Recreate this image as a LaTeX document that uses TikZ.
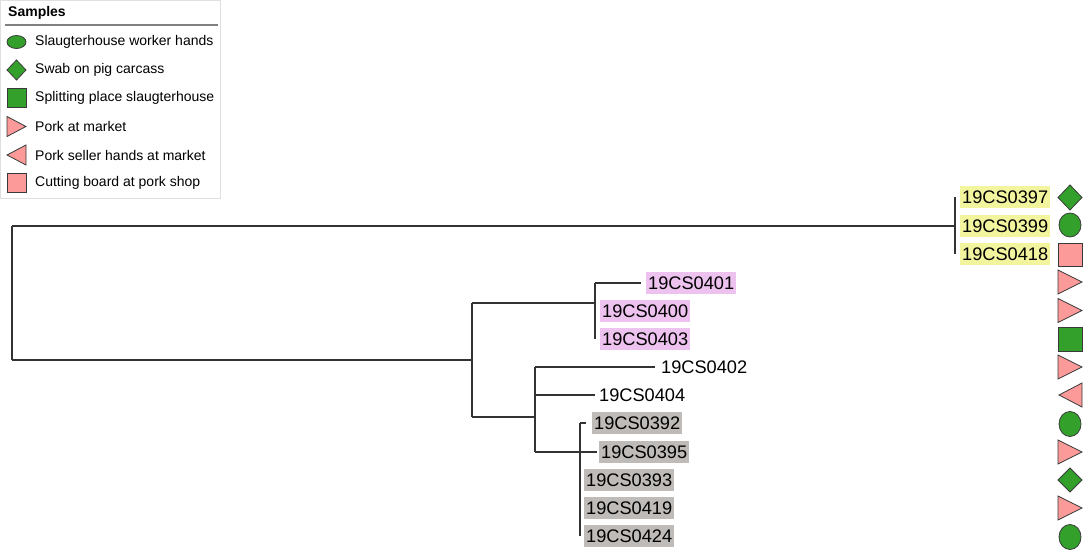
\documentclass[tikz,border=0pt]{standalone}
\usepackage{fontspec}
\setmainfont{Liberation Sans}
\definecolor{sgreen}{HTML}{33A02C}
\definecolor{spink}{HTML}{FB9A99}
\definecolor{sborder}{HTML}{3A3A3A}
\definecolor{hly}{HTML}{F3F59E}
\definecolor{hlp}{HTML}{EEC2EE}
\definecolor{hlg}{HTML}{BFBBB8}
\definecolor{branch}{HTML}{333333}
\tikzset{
  br/.style={draw=branch, line width=1.3pt},
  lab/.style={anchor=west, font=\fontsize{18.2}{20}\selectfont, inner xsep=2pt, inner ysep=0pt, minimum height=22pt, text height=13pt, text depth=0pt},
  legtext/.style={anchor=west, font=\fontsize{14}{16}\selectfont, inner xsep=2pt, inner ysep=0pt},
  gshape/.style={fill=sgreen, draw=sborder, line width=0.8pt},
  pshape/.style={fill=spink, draw=sborder, line width=0.8pt},
}
\begin{document}
\begin{tikzpicture}[x=1pt,y=-1pt]
\useasboundingbox (0,0) rectangle (1084,553);
% legend
\draw[gray!25, line width=0.8pt] (0.5,0.5) rectangle (220,198);
\node[anchor=west, font=\fontsize{14}{16}\selectfont\bfseries, inner xsep=2pt] (legtitle) at (6,13) {Samples};
\draw[gray, line width=1.2pt] (5,25) -- (218,25);
\draw[gshape] (16.5,42) ellipse [x radius=9.5, y radius=6.5];
\node[legtext] (lg1) at (33,42) {Slaugterhouse worker hands};
\draw[gshape] (16.5,60) -- (26,70) -- (16.5,80) -- (7,70) -- cycle;
\node[legtext] (lg2) at (33,70) {Swab on pig carcass};
\draw[gshape] (7,88.5) rectangle (26,107.5);
\node[legtext] (lg3) at (33,98) {Splitting place slaugterhouse};
\draw[pshape] (7,116.5) -- (26,126.5) -- (7,136.5) -- cycle;
\node[legtext] (lg4) at (33,126.5) {Pork at market};
\draw[pshape] (26,145) -- (7,155) -- (26,165) -- cycle;
\node[legtext] (lg5) at (33,155) {Pork seller hands at market};
\draw[pshape] (7,173.5) rectangle (26,192.5);
\node[legtext] (lg6) at (33,183) {Cutting board at pork shop};
% tree coordinates
\coordinate (r1) at (12,226); \coordinate (r2) at (12,360);
\coordinate (a1) at (955,197); \coordinate (a2) at (955,226); \coordinate (a3) at (955,254);
\coordinate (b1) at (472,303); \coordinate (b2) at (472,417);
\coordinate (p1) at (595,283); \coordinate (p2) at (595,303); \coordinate (p3) at (595,339);
\coordinate (t0401) at (641,283);
\coordinate (c1) at (535,367); \coordinate (c2) at (535,395); \coordinate (c3) at (535,417); \coordinate (c4) at (535,452);
\coordinate (t0402) at (655,367);
\coordinate (t0404) at (595,395);
\coordinate (t0395) at (597,452);
\coordinate (g1) at (580,423); \coordinate (g2) at (580,536);
\coordinate (t0392) at (586,423);
% branches
\draw[br] (r1) -- (r2);
\draw[br] (r1) -- (a2);
\draw[br] (a1) -- (a3);
\draw[br] (r2) -- (r2 -| b1);
\draw[br] (b1) -- (b2);
\draw[br] (b1) -- (p2);
\draw[br] (p1) -- (p3);
\draw[br] (p1) -- (t0401);
\draw[br] (b2) -- (c3);
\draw[br] (c1) -- (c4);
\draw[br] (c1) -- (t0402);
\draw[br] (c2) -- (t0404);
\draw[br] (c4) -- (t0395);
\draw[br] (g1) -- (g2);
\draw[br] (g1) -- (t0392);
% labels
\node[lab, fill=hly] (l0397) at (960,197) {19CS0397};
\node[lab, fill=hly] (l0399) at (960,226) {19CS0399};
\node[lab, fill=hly] (l0418) at (960,254) {19CS0418};
\node[lab, fill=hlp] (l0401) at (646,283) {19CS0401};
\node[lab, fill=hlp] (l0400) at (600,311) {19CS0400};
\node[lab, fill=hlp] (l0403) at (600,339) {19CS0403};
\node[lab] (l0402) at (659,367) {19CS0402};
\node[lab] (l0404) at (597,395) {19CS0404};
\node[lab, fill=hlg] (l0392) at (592,423) {19CS0392};
\node[lab, fill=hlg] (l0395) at (599,452) {19CS0395};
\node[lab, fill=hlg] (l0393) at (584,480) {19CS0393};
\node[lab, fill=hlg] (l0419) at (584,508) {19CS0419};
\node[lab, fill=hlg] (l0424) at (584,536) {19CS0424};
% sample symbols
\draw[gshape] (1070,185) -- (1082,197.5) -- (1070,210) -- (1058,197.5) -- cycle;
\draw[gshape] (1070,225) ellipse [x radius=11, y radius=12];
\draw[pshape] (1058,243) rectangle (1082,266);
\draw[pshape] (1058,270) -- (1082,282) -- (1058,294) -- cycle;
\draw[pshape] (1058,298.5) -- (1082,310.5) -- (1058,322.5) -- cycle;
\draw[gshape] (1058,327) rectangle (1082,351);
\draw[pshape] (1058,355) -- (1082,367) -- (1058,379) -- cycle;
\draw[pshape] (1082,383) -- (1059,395) -- (1082,407) -- cycle;
\draw[gshape] (1070,424) ellipse [x radius=11, y radius=12.5];
\draw[pshape] (1058,440) -- (1082,452) -- (1058,464) -- cycle;
\draw[gshape] (1070,468) -- (1082,480) -- (1070,492) -- (1058,480) -- cycle;
\draw[pshape] (1058,496) -- (1082,508) -- (1058,520) -- cycle;
\draw[gshape] (1070,537) ellipse [x radius=11, y radius=12.5];
\end{tikzpicture}
\end{document}
